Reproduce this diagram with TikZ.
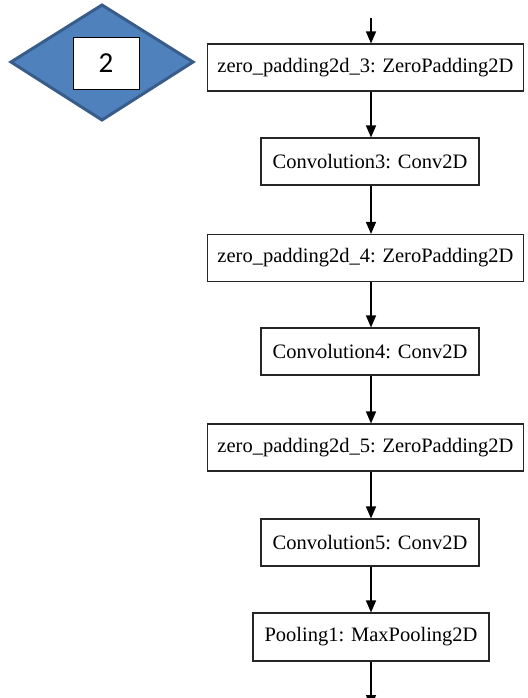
\documentclass[tikz,border=0pt]{standalone}
\usepackage{fontspec}
\setmainfont{Liberation Serif}
\newfontfamily\badgefont{Carlito}
\usetikzlibrary{arrows.meta}
\definecolor{dfill}{HTML}{4F81BD}
\definecolor{dline}{HTML}{385D8A}
\begin{document}
\begin{tikzpicture}[x=1pt,y=-1pt,
  layer/.style={draw=black!85,line width=1.1pt,fill=white,inner sep=0pt,
    font=\fontsize{20.5}{24}\selectfont,anchor=center},
  shortbox/.style={layer,minimum width=218pt,minimum height=47pt},
  longbox/.style={layer,minimum width=316pt,minimum height=47pt},
  flow/.style={-{Triangle[length=12pt,width=10pt]},line width=1.3pt}]
\useasboundingbox (0,0) rectangle (527,698);
\clip (0,0) rectangle (527,698);

% blue diamond with its numbered badge
\coordinate (dl) at (11,62);
\coordinate (dt) at (102,5);
\coordinate (dr) at (193,62);
\coordinate (db) at (102,120);
\draw[fill=dfill,draw=dline,line width=3pt,line join=miter] (dl) -- (dt) -- (dr) -- (db) -- cycle;
\node[draw=black,line width=0.9pt,fill=white,minimum width=66pt,minimum height=52pt,inner sep=0pt]
  (badge) at (106,63) {\badgefont\fontsize{29}{30}\selectfont 2};

% layer boxes
\node[longbox]  (zp3)   at (365.5,67.5)  {zero\_padding2d\_3: ZeroPadding2D};
\node[shortbox] (conv3) at (370,161.5)   {Convolution3: Conv2D};
\node[longbox]  (zp4)   at (365.5,258)   {zero\_padding2d\_4: ZeroPadding2D};
\node[shortbox] (conv4) at (370,351.5)   {Convolution4: Conv2D};
\node[longbox]  (zp5)   at (365.5,447.5) {zero\_padding2d\_5: ZeroPadding2D};
\node[shortbox] (conv5) at (370,542.5)   {Convolution5: Conv2D};
\node[layer,minimum width=236pt,minimum height=48pt] (pool) at (371,637) {Pooling1: MaxPooling2D};

% connectors
\coordinate (topin) at (371,18);
\coordinate (out) at (371,707);
\draw[flow] (topin) -- (zp3.north -| topin);
\draw[flow] (zp3.south -| topin) -- (conv3.north -| topin);
\draw[flow] (conv3.south -| topin) -- (zp4.north -| topin);
\draw[flow] (zp4.south -| topin) -- (conv4.north -| topin);
\draw[flow] (conv4.south -| topin) -- (zp5.north -| topin);
\draw[flow] (zp5.south -| topin) -- (conv5.north -| topin);
\draw[flow] (conv5.south -| topin) -- (pool.north -| topin);
\draw[flow] (pool.south -| topin) -- (out);
\end{tikzpicture}
\end{document}
